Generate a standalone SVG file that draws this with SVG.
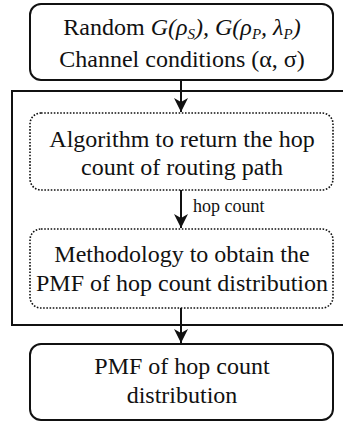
<svg xmlns="http://www.w3.org/2000/svg" width="343" height="422" viewBox="0 0 343 422">
<defs>
<marker id="ah" viewBox="0 0 14 14" refX="14" refY="7" markerWidth="14" markerHeight="14" markerUnits="userSpaceOnUse" orient="auto">
<path d="M0,0 L14,7 L0,14 L4,7 Z" fill="#111"/>
</marker>
<style>
text{fill:#111;text-anchor:middle}
.t{font-size:24px}
.s{font-size:18px;text-anchor:start}
.box{fill:#fff;stroke:#111;stroke-width:2}
.dot{fill:#fff;stroke:#111;stroke-width:1.6;stroke-dasharray:1.6 1.6}
.frame{fill:none;stroke:#111;stroke-width:2}
.c{stroke:#111;stroke-width:2;fill:none;marker-end:url(#ah)}
</style>
</defs>
<g id="frame"><rect class="frame" x="12" y="91" width="340" height="234"/></g>
<g id="connectors">
<line class="c" x1="181" y1="80" x2="181" y2="112"/>
<line class="c" x1="181" y1="190" x2="181" y2="228"/>
<line class="c" x1="181" y1="308" x2="181" y2="343"/>
</g>
<g font-family="Liberation Serif, Times New Roman, DejaVu Serif, serif">
<g id="input">
<rect class="box" x="30" y="4" width="303" height="76" rx="11"/>
<text class="t" x="182" y="35">Random <tspan font-style="italic">G(ρ<tspan font-size="15" dy="4">S</tspan><tspan dy="-4">), G(ρ</tspan><tspan font-size="15" dy="4">P</tspan><tspan dy="-4">, λ</tspan><tspan font-size="15" dy="4">P</tspan><tspan dy="-4">)</tspan></tspan></text>
<text class="t" x="182" y="67">Channel conditions (α, σ)</text>
</g>
<g id="algorithm">
<rect class="dot" x="30" y="113" width="303" height="77" rx="11"/>
<text class="t" x="182" y="147">Algorithm to return the hop</text>
<text class="t" x="182" y="175">count of routing path</text>
</g>
<g id="label"><text class="s" x="193" y="212">hop count</text></g>
<g id="methodology">
<rect class="dot" x="30" y="229" width="303" height="79" rx="11"/>
<text class="t" x="182" y="262">Methodology to obtain the</text>
<text class="t" x="182" y="291">PMF of hop count distribution</text>
</g>
<g id="output">
<rect class="box" x="30" y="344" width="303" height="76" rx="11"/>
<text class="t" x="182" y="374">PMF of hop count</text>
<text class="t" x="182" y="403">distribution</text>
</g>
</g>
</svg>
